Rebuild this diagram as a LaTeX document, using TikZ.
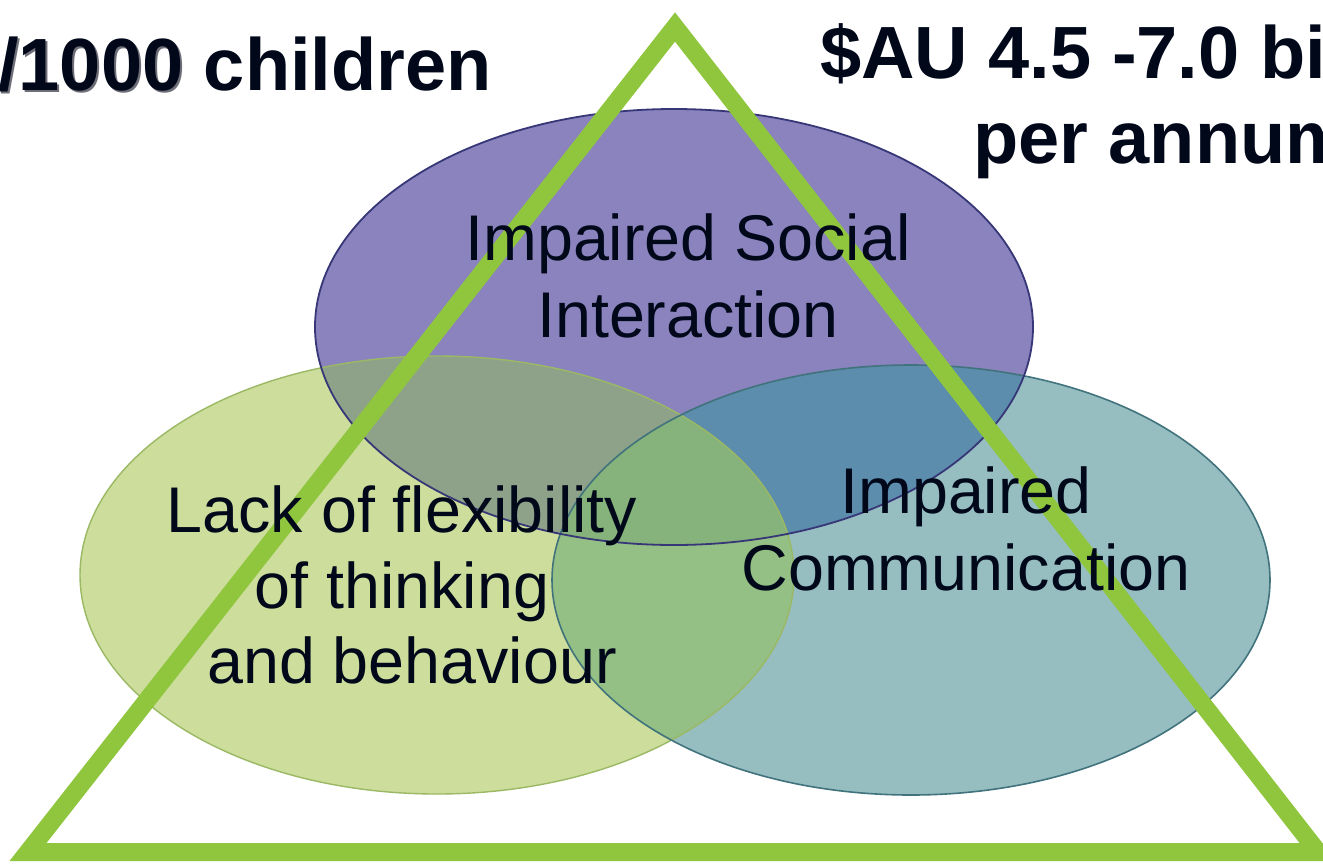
\documentclass[tikz,border=0pt]{standalone}
\usepackage{fontspec}
\setmainfont{Liberation Sans}
\definecolor{cP}{RGB}{138,131,190}
\definecolor{cG}{RGB}{204,221,156}
\definecolor{cT}{RGB}{150,190,193}
\definecolor{cPG}{RGB}{142,162,138}
\definecolor{cPT}{RGB}{92,141,172}
\definecolor{cGT}{RGB}{148,191,133}
\definecolor{cPGT}{RGB}{134,178,123}
\definecolor{oP}{RGB}{55,55,120}
\definecolor{oG}{RGB}{155,185,100}
\definecolor{oT}{RGB}{65,115,125}
\definecolor{triGreen}{RGB}{143,198,62}
\definecolor{ink}{RGB}{0,8,26}
\definecolor{shade}{RGB}{110,110,120}
\begin{document}
\begin{tikzpicture}[x=1pt,y=-1pt,
  label/.style={inner sep=0pt,anchor=base,text=ink,font=\fontsize{64.6}{76}\selectfont},
  headL/.style={inner sep=0pt,text=ink,font=\fontsize{74}{86}\selectfont\bfseries},
  headR/.style={inner sep=0pt,anchor=base west,text=ink,font=\fontsize{74}{86}\selectfont\bfseries},
  tri/.style={draw=triGreen,line width=18pt,line join=miter}]
\useasboundingbox (0,0) rectangle (1323,863);
\clip (0,0) rectangle (1323,863);
\fill[white] (0,0) rectangle (1323,863);

% the three overlapping ellipses
\def\ellP{(674,327) ellipse [x radius=359pt, y radius=218pt]}
\def\ellG{(437,575) ellipse [x radius=357pt, y radius=219pt]}
\def\ellT{(911,580) ellipse [x radius=359pt, y radius=215pt]}

\fill[cP] \ellP;
\fill[cG] \ellG;
\fill[cT] \ellT;
\begin{scope}
  \clip \ellG;
  \fill[cGT] \ellT;
\end{scope}
\begin{scope}
  \clip \ellP;
  \fill[cPG] \ellG;
  \fill[cPT] \ellT;
  \clip \ellG;
  \fill[cPGT] \ellT;
\end{scope}
\draw[oG,line width=1.4pt] \ellG;
\draw[oT,line width=1.6pt] \ellT;
\draw[oP,line width=1.8pt] \ellP;

% the triangle
\coordinate (apex) at (675,27);
\coordinate (bl) at (28,852);
\coordinate (br) at (1318,852);
\draw[tri] (apex) -- (bl) -- (br) -- cycle;

% labels inside the ellipses
\node[label] (soc1) at (688,260) {Impaired Social};
\node[label] (soc2) at (688,337) {Interaction};
\node[label] (flx1) at (402,532) {Lack of flexibility};
\node[label] (flx2) at (402,608) {of thinking};
\node[label] (flx3) at (412,683) {and behaviour};
\node[label] (com1) at (966,513) {Impaired};
\node[label] (com2) at (966,590) {Communication};

% headings
\node[headL,anchor=base east,text=shade] (prevs) at (494,92) {/1000\phantom{ children}};
\node[headL,anchor=base east] (prev) at (492,90) {/1000 children};
\node[headR] (cost1) at (820,78) {\$AU 4.5 -7.0 bi};
\node[headR] (cost2) at (973,163) {per annum};
\end{tikzpicture}
\end{document}
